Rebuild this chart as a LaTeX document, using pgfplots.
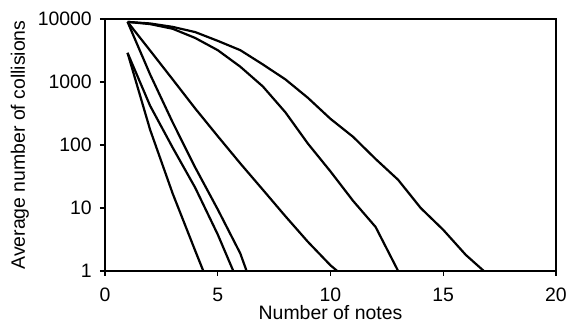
\documentclass[border=0pt]{standalone}
\usepackage{pgfplots}
\pgfplotsset{compat=1.18}
\usepackage{fontspec}
\setmainfont{Liberation Sans}
\begin{document}
\fontsize{19.5}{23}\selectfont
\begin{tikzpicture}
\begin{axis}[
  scale only axis,
  width=451bp, height=252bp,
  ymode=log, log basis y=10,
  xmin=0, xmax=20, ymin=1, ymax=10000,
  xtick={0,5,10,15,20},
  ytick={1,10,100,1000,10000},
  yticklabels={1,10,100,1000,10000},
  minor tick num=0, minor ytick={},
  tick align=outside, xtick pos=bottom, ytick pos=left,
  major tick length=5bp,
  tick style={line width=1.5bp, black},
  axis line style={line width=2.5bp},
  /pgf/number format/assume math mode=true,
  xticklabel style={anchor=base, inner sep=0pt, yshift=-26bp},
  yticklabel style={anchor=east, inner sep=0pt, xshift=-8bp},
  xlabel={Number of notes},
  ylabel={Average number of collisions},
  every axis x label/.style={at={(axis description cs:0.5,0)}, anchor=base, inner sep=0pt, yshift=-48bp},
  every axis y label/.style={at={(axis description cs:0,0.5)}, rotate=90, anchor=base, inner sep=0pt, yshift=80bp},
  cycle list={{black, solid, mark=none}},
  every axis plot/.append style={line width=2.2bp, sharp plot},
]
% A
\addplot coordinates {(1,2900) (2,175) (3,17) (4,2.1) (4.36,1)};
% B
\addplot coordinates {(1,2900) (2,420) (3,91) (4,21) (5,3.8) (5.69,1)};
% C
\addplot coordinates {(1,9000) (2,1320) (3,229) (4,44) (5,9.5) (6,1.9) (6.28,1)};
% D
\addplot coordinates {(1,9000) (2,3160) (3,1100) (4,380) (5,138) (6,51) (7,19.5) (8,7.4) (9,2.9) (10,1.23) (10.3,1)};
% E
\addplot coordinates {(1,9000) (2,8300) (3,7000) (4,5000) (5,3200) (6,1750) (7,850) (8,330) (9,105) (10,38) (11,13) (12,5) (13,1)};
% F
\addplot coordinates {(1,9000) (2,8500) (3,7500) (4,6200) (5,4500) (6,3200) (7,1900) (8,1100) (9,560) (10,260) (11,135) (12,60) (13,28) (14,10) (15,4.5) (16,1.8) (16.8,1)};
\end{axis}
\pgfresetboundingbox
\path[use as bounding box] (-105bp,-51bp) rectangle (461bp,271bp);
\end{tikzpicture}
\end{document}
